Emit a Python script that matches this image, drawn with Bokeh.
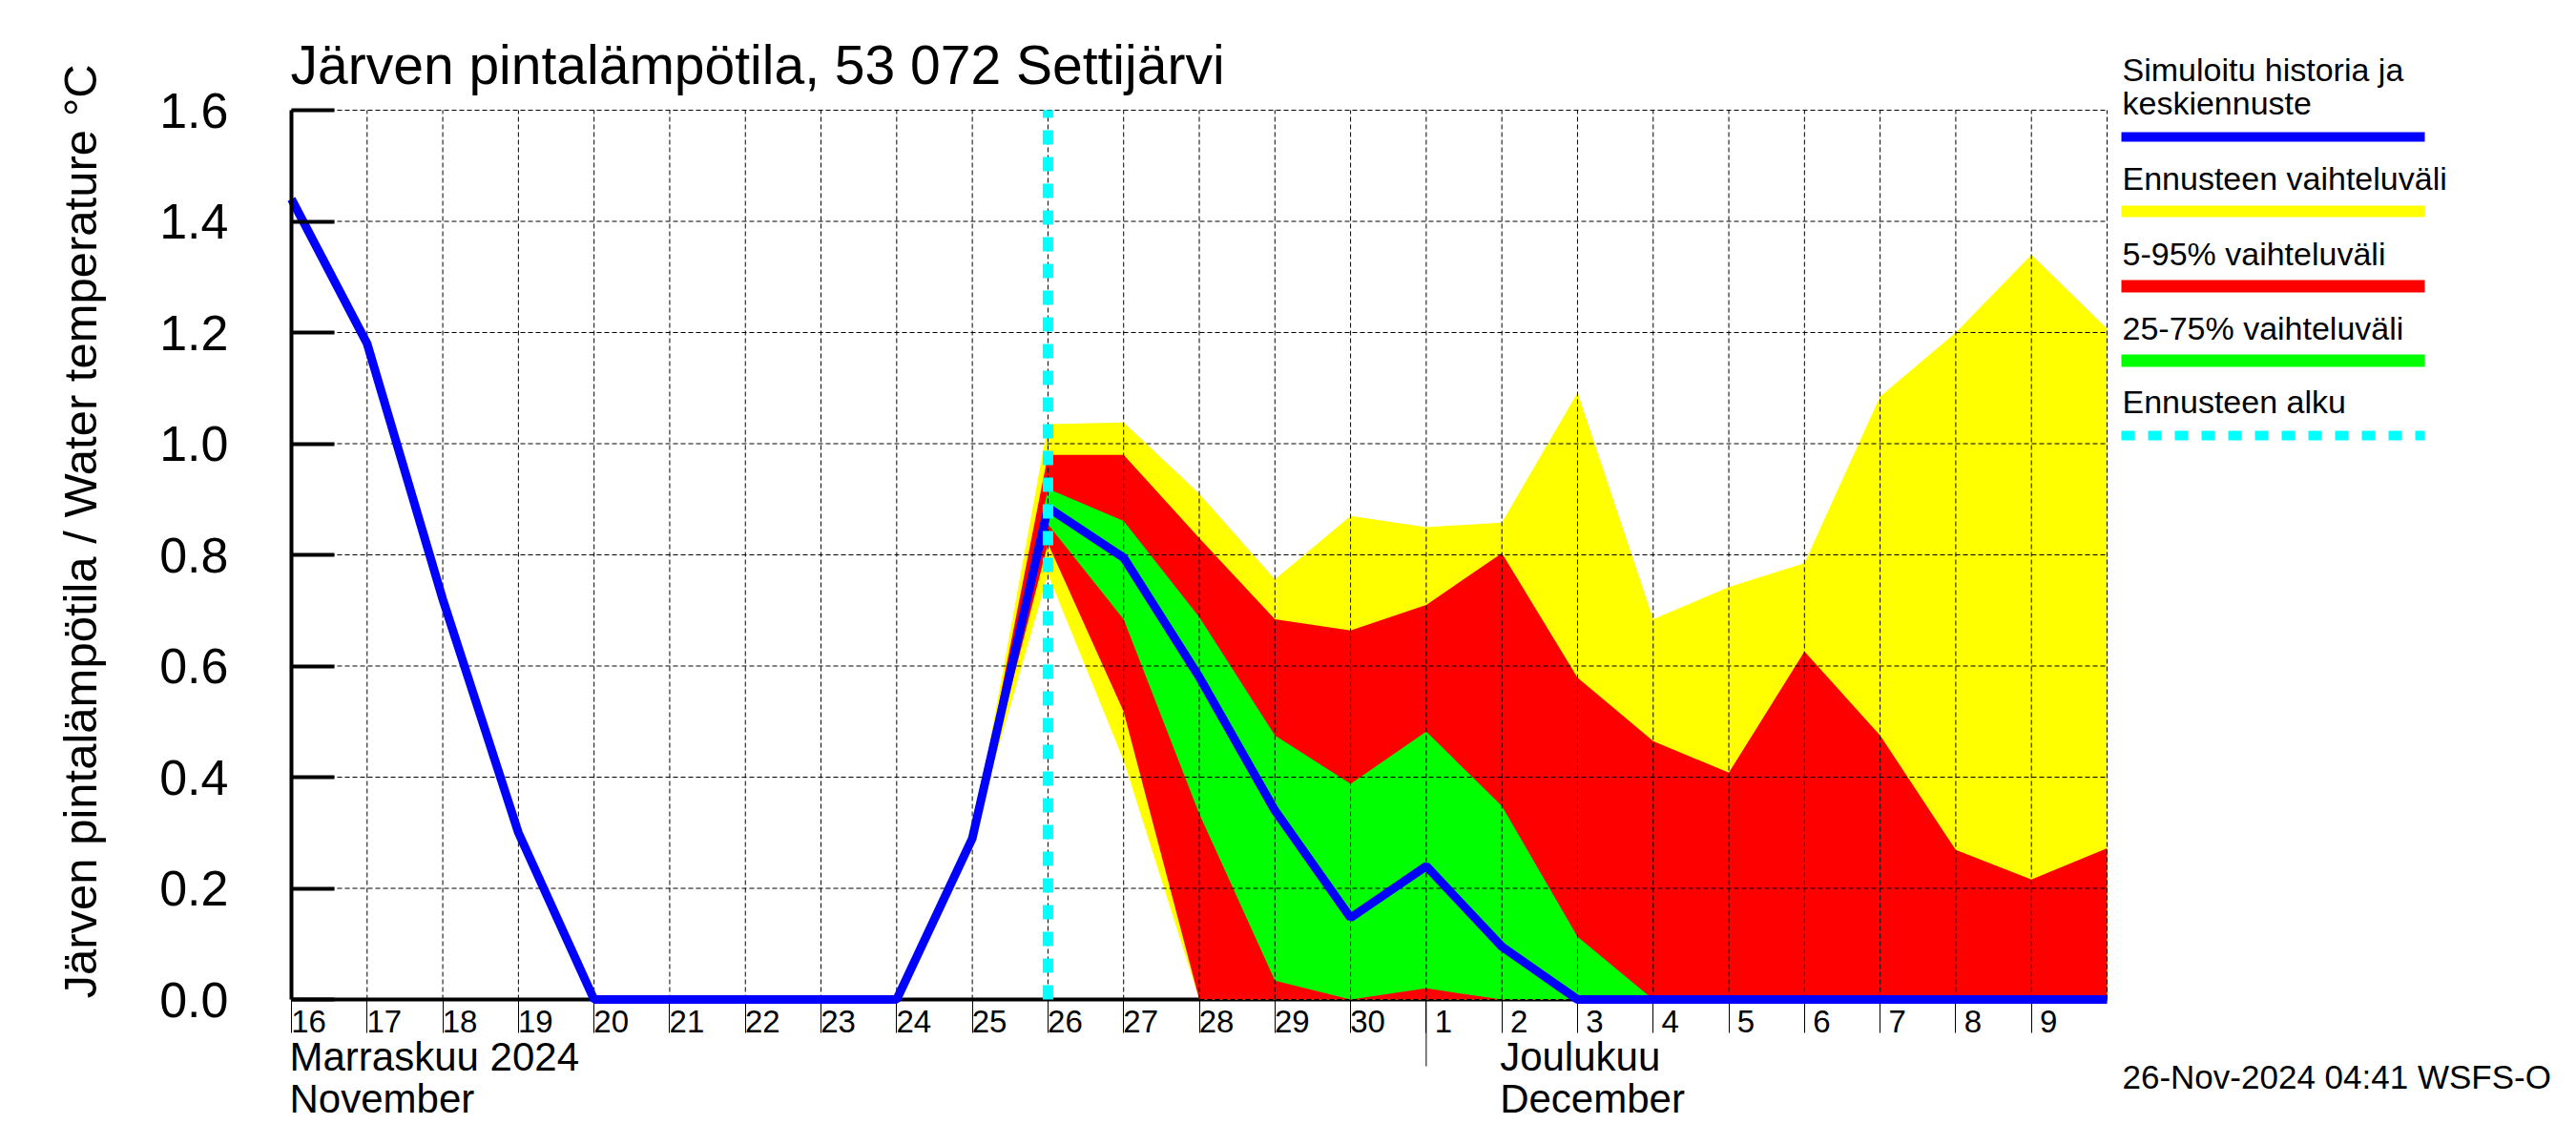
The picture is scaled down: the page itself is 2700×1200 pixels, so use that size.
import math
from datetime import datetime
from bokeh.plotting import figure
from bokeh.models import (Range1d, FixedTicker, LabelSet, ColumnDataSource,
                          LinearAxis, DatetimeAxis)
from bokeh.embed import file_html
from bokeh.resources import INLINE
from bokeh.core.properties import value

# ---------------- data ----------------
hist_dates = ["2024-11-16", "2024-11-17", "2024-11-18", "2024-11-19", "2024-11-20",
              "2024-11-21", "2024-11-22", "2024-11-23", "2024-11-24", "2024-11-25",
              "2024-11-26", "2024-11-27", "2024-11-28", "2024-11-29", "2024-11-30",
              "2024-12-01", "2024-12-02", "2024-12-03", "2024-12-04", "2024-12-05",
              "2024-12-06", "2024-12-07", "2024-12-08", "2024-12-09", "2024-12-10"]
mean_values = [1.44, 1.18, 0.72, 0.30, 0.0, 0.0, 0.0, 0.0, 0.0, 0.29,
               0.885, 0.795, 0.58, 0.34, 0.147, 0.24, 0.095, 0.0, 0.0, 0.0,
               0.0, 0.0, 0.0, 0.0, 0.0]

fc_dates = ["2024-11-25", "2024-11-26", "2024-11-27", "2024-11-28", "2024-11-29",
            "2024-11-30", "2024-12-01", "2024-12-02", "2024-12-03", "2024-12-04",
            "2024-12-05", "2024-12-06", "2024-12-07", "2024-12-08", "2024-12-09",
            "2024-12-10"]
yellow_hi = [0.29, 1.035, 1.038, 0.91, 0.756, 0.87, 0.85, 0.858, 1.092, 0.684,
             0.742, 0.785, 1.085, 1.20, 1.34, 1.207]
yellow_lo = [0.29, 0.765, 0.43, 0.0, 0.0, 0.0, 0.0, 0.0, 0.0, 0.0,
             0.0, 0.0, 0.0, 0.0, 0.0, 0.0]
red_hi = [0.29, 0.98, 0.98, 0.83, 0.684, 0.664, 0.71, 0.803, 0.579, 0.465,
          0.408, 0.626, 0.475, 0.269, 0.216, 0.272]
red_lo = [0.29, 0.82, 0.518, 0.0, 0.0, 0.0, 0.0, 0.0, 0.0, 0.0,
          0.0, 0.0, 0.0, 0.0, 0.0, 0.0]
green_hi = [0.29, 0.919, 0.861, 0.688, 0.475, 0.388, 0.482, 0.348, 0.113, 0.0,
            0.0, 0.0, 0.0, 0.0, 0.0, 0.0]
green_lo = [0.29, 0.855, 0.684, 0.334, 0.034, 0.0, 0.02, 0.0, 0.0, 0.0,
            0.0, 0.0, 0.0, 0.0, 0.0, 0.0]

forecast_start = "2024-11-26"

y_ticks = [0.0, 0.2, 0.4, 0.6, 0.8, 1.0, 1.2, 1.4, 1.6]
y_tick_labels = ["0.0", "0.2", "0.4", "0.6", "0.8", "1.0", "1.2", "1.4", "1.6"]

day_ticks = hist_dates[:24]
day_labels = ["16", "17", "18", "19", "20", "21", "22", "23", "24", "25", "26", "27",
              "28", "29", "30", "1", "2", "3", "4", "5", "6", "7", "8", "9"]

month_labels = [("2024-11-16", "Marraskuu 2024", "November"),
                ("2024-12-02", "Joulukuu", "December")]
month_separator = "2024-12-01"

title_text = "Järven pintalämpötila, 53 072 Settijärvi"
ylabel_text = "Järven pintalämpötila / Water temperature °C"
timestamp_text = "26-Nov-2024 04:41 WSFS-O"

legend_texts = [["Simuloitu historia ja", "keskiennuste"],
                ["Ennusteen vaihteluväli"],
                ["5-95% vaihteluväli"],
                ["25-75% vaihteluväli"],
                ["Ennusteen alku"]]
legend_colors = ["#0000ff", "#ffff00", "#ff0000", "#00ff00", "#00ffff"]

BLUE, YELLOW, RED, GREEN, CYAN = legend_colors
FONT = "Liberation Sans"


def ms(s):
    d = datetime.strptime(s, "%Y-%m-%d")
    return (d - datetime(1970, 1, 1)).total_seconds() * 1000.0


hx = [ms(d) for d in hist_dates]
fx = [ms(d) for d in fc_dates]

# ---------------- geometry (pixels from the figure's top-left) ----------------
W, H = 2684, 1184
PL, PR, PT, PB = 305, 2208, 115, 1047      # data area
X0, X1 = hx[0], hx[-1]
MSPP = (X1 - X0) / (PR - PL)
YPP = 1.6 / (PB - PT)


def xd(px):
    return X0 + (px - PL) * MSPP


def yd(py):
    return (PB - py) * YPP


p = figure(width=W, height=H, title=None,
           x_range=Range1d(xd(0), xd(W)), y_range=Range1d(yd(H), yd(0)),
           x_axis_location=None, y_axis_location=None, min_border=0,
           output_backend="svg", toolbar_location=None)
p.outline_line_color = None
p.background_fill_color = "white"
p.border_fill_color = "white"
p.grid.visible = False


def add_text(xs, ys, texts, size, align="left", angle=0.0):
    src = ColumnDataSource(dict(x=xs, y=ys, text=texts))
    p.add_layout(LabelSet(x="x", y="y", text="text", source=src,
                          text_font=value(FONT), text_font_size=value(size),
                          text_align=align, text_baseline="alphabetic",
                          angle=angle, text_color="black"))


# bands
for lo, hi, col in [(yellow_lo, yellow_hi, YELLOW), (red_lo, red_hi, RED),
                    (green_lo, green_hi, GREEN)]:
    p.varea(x=fx, y1=lo, y2=hi, fill_color=col, fill_alpha=1.0)

# grid (dashed)
p.segment(x0=hx, x1=hx, y0=[y_ticks[0]] * len(hx), y1=[y_ticks[-1]] * len(hx),
          line_color="black", line_width=1, line_dash="5 3")
p.segment(x0=[X0] * len(y_ticks), x1=[X1] * len(y_ticks), y0=y_ticks, y1=y_ticks,
          line_color="black", line_width=1, line_dash="5 3")

# mean line
p.line(hx, mean_values, line_color=BLUE, line_width=9)

# forecast start
fs = ms(forecast_start)
p.line([fs, fs], [y_ticks[0], y_ticks[-1]], line_color=CYAN, line_width=11,
       line_dash="15 13")

# y axis
yaxis = LinearAxis(fixed_location=X0, bounds=(0, 1.6),
                   ticker=FixedTicker(ticks=y_ticks))
yaxis.major_label_overrides = dict(zip(y_ticks, y_tick_labels))
yaxis.major_label_text_font = FONT
yaxis.major_label_text_font_size = "52px"
yaxis.major_label_text_color = "black"
yaxis.major_label_standoff = 66
yaxis.major_tick_in = 45
yaxis.major_tick_out = 0
yaxis.major_tick_line_width = 4
yaxis.axis_line_width = 4
yaxis.minor_tick_line_color = None
p.add_layout(yaxis, "left")

# x axis (ticks only; the day numbers are drawn as a label set)
xaxis = DatetimeAxis(fixed_location=0, bounds=(X0, X1),
                     ticker=FixedTicker(ticks=[ms(d) for d in day_ticks]))
xaxis.major_label_overrides = {ms(d): "" for d in day_ticks}
xaxis.major_tick_in = 0
xaxis.major_tick_out = 35
xaxis.major_tick_line_width = 1
xaxis.axis_line_width = 4
xaxis.minor_tick_line_color = None
xaxis.level = "underlay"
p.add_layout(xaxis, "below")

# day labels
add_text([ms(d) + 18 * MSPP for d in day_ticks], [yd(1081)] * len(day_labels),
         day_labels, "33px", align="center")

# month labels
mx, my, mt = [], [], []
for d, fi, en in month_labels:
    mx += [ms(d) - 2 * MSPP, ms(d) - 2 * MSPP]
    my += [yd(1121), yd(1165)]
    mt += [fi, en]
add_text(mx, my, mt, "42px")

# month separator tick
sep = ms(month_separator)
p.segment(x0=[sep], x1=[sep], y0=[0], y1=[yd(1117)], line_color="black",
          line_width=1)

# title
add_text([xd(304)], [yd(87)], [title_text], "57px")

# y axis label
add_text([xd(100)], [yd(1046)], [ylabel_text], "49px", angle=math.pi / 2)

# ---------------- legend ----------------
text_x, text_y, text_t = [], [], []
base = [84, 198, 277, 355, 432]
line_y = [143, 221, 299.5, 377.5, 456]
line_w = [10, 12, 13, 13, 10]
for lines, b in zip(legend_texts, base):
    for i, t in enumerate(lines):
        text_x.append(xd(2224))
        text_y.append(yd(b + 35 * i))
        text_t.append(t)
add_text(text_x, text_y, text_t, "34px")

solid = [0, 1, 2, 3]
p.segment(x0=[xd(2223)] * 4, x1=[xd(2541)] * 4,
          y0=[yd(line_y[i]) for i in solid], y1=[yd(line_y[i]) for i in solid],
          line_color=[legend_colors[i] for i in solid],
          line_width=[line_w[i] for i in solid])
p.line(x=[xd(2223), xd(2541)], y=[yd(line_y[4])] * 2, line_color=CYAN,
       line_width=10, line_dash="14 14")

add_text([xd(2224)], [yd(1140)], [timestamp_text], "35px")

open("out.html", "w").write(file_html(p, INLINE))
